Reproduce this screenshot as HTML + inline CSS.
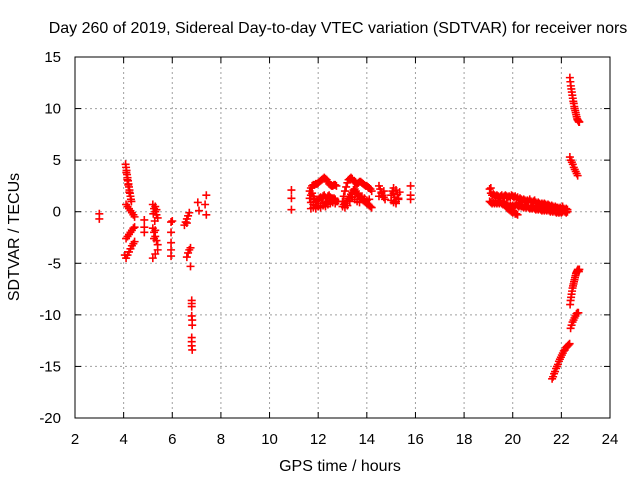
<!DOCTYPE html>
<html><head><meta charset="utf-8"><style>
body{margin:0;background:#fff}
svg{display:block;font-family:"Liberation Sans",sans-serif}
</style></head><body>
<svg id="chart" width="640" height="480" xmlns="http://www.w3.org/2000/svg">
<rect x="0" y="0" width="640" height="480" fill="#fff"/>
<text x="338" y="33" font-size="16" text-anchor="middle">Day 260 of 2019, Sidereal Day-to-day VTEC variation (SDTVAR) for receiver nors</text>
<text x="340" y="471" font-size="16" text-anchor="middle">GPS time / hours</text>
<text x="19" y="237" font-size="16" text-anchor="middle" transform="rotate(-90 19 237)">SDTVAR / TECUs</text>
<g id="grid"></g><g id="axes"></g><g id="marks"></g>
</svg>
<script>
const xTicks=[2,4,6,8,10,12,14,16,18,20,22,24];
const yTicks=[15,10,5,0,-5,-10,-15,-20];
const hours=[
3.0,3.0,
4.08,4.10,4.12,4.14,4.16,4.18,4.20,4.22,4.24,4.26,4.28,4.30,4.32,4.11,4.15,4.19,4.23,
4.10,4.16,4.22,4.28,4.34,4.40,4.45,
4.10,4.16,4.22,4.28,4.34,4.40,4.45,
4.05,4.10,4.16,4.22,4.28,4.34,4.40,4.45,
4.85,4.85,4.85,
5.2,5.25,5.3,5.35,5.4,5.3,5.28,5.35,5.22,
5.2,5.25,5.3,5.35,5.4,5.25,5.3,
5.2,5.3,5.4,
5.95,5.95,5.95,5.95,5.95,6.0,
6.5,6.55,6.6,6.65,6.7,6.6,
6.6,6.65,6.7,6.75,6.75,
6.8,6.8,6.8,6.8,6.82,6.82,6.8,6.8,6.8,6.82,
7.05,7.4,7.35,7.1,7.4,
10.9,10.9,10.9,
11.65,11.7,11.75,11.8,11.85,11.9,11.95,12.0,12.05,12.1,12.15,12.2,12.25,12.3,12.35,12.4,12.45,12.5,12.55,12.6,12.65,12.7,12.75,
11.65,11.7,11.75,11.8,11.85,11.9,11.95,12.0,12.05,12.1,12.15,12.2,12.25,12.3,12.35,12.4,12.45,12.5,12.55,12.6,12.65,12.7,12.75,
11.7,11.8,11.9,12.0,12.1,12.2,12.3,12.4,12.5,12.6,12.7,
11.7,11.8,11.9,12.0,12.1,12.2,12.3,12.4,12.5,12.6,12.7,12.8,
13.0,13.05,13.1,13.15,13.2,13.25,13.3,13.35,13.4,13.45,13.5,13.55,13.6,13.65,13.7,13.75,13.8,13.85,13.9,13.95,14.0,14.05,14.1,14.15,14.2,
13.0,13.05,13.1,13.15,13.2,13.25,13.3,13.35,13.4,13.45,13.5,13.55,13.6,13.65,13.7,13.75,13.8,13.85,13.9,13.95,14.0,14.05,14.1,14.15,14.2,
13.1,13.2,13.3,13.4,13.5,13.6,13.7,13.8,13.9,14.0,14.1,
14.5,14.55,14.6,14.65,14.7,14.75,14.5,14.6,14.7,
15.0,15.05,15.1,15.15,15.2,15.25,15.3,15.35,15.0,15.1,15.2,15.3,15.1,15.2,
15.8,15.8,15.8,
19.05,19.1,19.15,19.2,19.25,19.3,19.35,19.4,19.45,19.5,19.55,19.6,19.65,19.7,19.75,19.8,19.85,19.9,19.95,20.0,20.05,20.1,20.15,20.2,20.25,20.3,20.35,20.4,20.45,20.5,20.55,20.6,20.65,20.7,20.75,20.8,20.85,20.9,20.95,21.0,21.05,21.1,21.15,21.2,21.25,21.3,21.35,21.4,21.45,21.5,21.55,21.6,21.65,21.7,21.75,21.8,21.85,21.9,21.95,22.0,22.05,22.1,22.15,22.2,22.25,
19.05,19.1,19.15,19.2,19.25,19.3,19.35,19.4,19.45,19.5,19.55,19.6,19.65,19.7,19.75,19.8,19.85,19.9,19.95,20.0,20.05,20.1,20.15,20.2,20.25,20.3,20.35,20.4,20.45,20.5,20.55,20.6,20.65,20.7,20.75,20.8,20.85,20.9,20.95,21.0,21.05,21.1,21.15,21.2,21.25,21.3,21.35,21.4,21.45,21.5,21.55,21.6,21.65,21.7,21.75,21.8,21.85,21.9,21.95,22.0,22.05,22.1,22.15,22.2,22.25,
19.7,19.75,19.8,19.85,19.9,19.95,20.0,20.05,20.1,20.15,20.2,19.1,
22.35,22.37,22.39,22.41,22.43,22.45,22.47,22.49,22.51,22.53,22.55,22.57,22.59,22.61,22.63,22.65,22.67,22.7,22.72,22.74,
22.35,22.39,22.43,22.47,22.51,22.55,22.59,22.63,22.67,
22.36,22.38,22.4,22.42,22.44,22.46,22.48,22.5,22.52,22.54,22.56,22.58,22.6,22.62,22.64,22.66,22.68,22.7,22.72,22.74,
22.38,22.42,22.46,22.5,22.54,22.58,22.62,22.66,22.7,
21.62,21.66,21.7,21.74,21.78,21.82,21.86,21.9,21.94,21.98,22.02,22.06,22.1,22.14,22.18,22.22,22.26,22.3,22.34
];
const sdtvar=[
-0.2,-0.7,
4.6,4.3,4.0,3.6,3.3,3.0,2.7,2.4,2.1,1.8,1.5,1.2,1.0,3.8,3.1,2.6,1.9,
0.7,0.5,0.3,0.1,-0.1,-0.3,-0.5,
-2.6,-2.4,-2.2,-2.0,-1.8,-1.6,-1.5,
-4.2,-4.5,-4.2,-3.9,-3.6,-3.3,-3.1,-2.9,
-0.8,-1.5,-2.0,
0.7,0.3,0.0,-0.3,-0.6,0.5,-0.9,0.2,-0.2,
-1.6,-2.0,-2.4,-2.8,-3.2,-2.6,-1.8,
-4.5,-4.1,-3.7,
-1.0,-2.0,-3.0,-3.7,-4.3,-0.9,
-1.3,-1.0,-0.7,-0.4,-0.1,-1.1,
-4.4,-4.0,-3.7,-3.5,-5.3,
-8.6,-8.9,-9.2,-10.1,-10.5,-11.0,-12.2,-12.6,-13.0,-13.4,
0.9,1.6,0.7,0.1,-0.3,
2.1,1.3,0.2,
2.0,2.3,2.5,2.6,2.6,2.7,2.7,2.8,2.9,3.0,3.1,3.2,3.3,3.2,3.1,2.9,2.7,2.6,2.5,2.5,2.6,2.6,2.5,
1.3,1.6,1.8,1.5,1.2,1.0,1.1,1.2,1.3,1.4,1.3,1.5,1.6,1.4,1.3,1.5,1.6,1.4,1.3,1.2,1.3,1.1,1.0,
0.3,0.4,0.3,0.5,0.4,0.6,0.5,0.7,0.8,0.9,0.8,
0.9,0.7,0.6,0.5,0.6,0.8,0.9,1.0,1.1,1.0,1.2,1.0,
1.0,1.5,2.0,2.4,2.8,3.1,3.2,3.3,3.2,3.0,2.9,2.8,2.7,2.8,2.9,2.9,2.8,2.7,2.6,2.5,2.5,2.4,2.3,2.2,2.0,
0.5,0.7,0.8,1.0,1.1,1.3,1.5,1.7,1.9,2.1,2.2,2.0,1.8,1.6,1.5,1.4,1.2,1.1,1.0,0.9,0.8,0.7,0.6,0.5,0.4,
0.4,0.6,1.0,1.4,1.2,1.0,0.9,1.5,1.3,1.1,1.2,
2.5,2.2,1.9,1.6,1.4,1.2,1.5,1.8,2.0,
1.6,2.0,1.8,1.4,2.1,1.7,1.3,1.9,1.1,0.9,1.0,1.2,2.3,0.8,
2.5,1.6,1.2,
2.2,1.8,1.6,1.7,1.6,1.5,1.6,1.5,1.4,1.5,1.6,1.4,1.5,1.6,1.5,1.4,1.5,1.4,1.6,1.5,1.4,1.5,1.3,1.4,1.2,1.3,1.2,1.1,1.2,1.1,1.0,1.1,1.0,1.2,1.0,0.9,1.0,1.1,0.9,0.8,0.9,0.8,0.7,0.8,0.7,0.8,0.7,0.6,0.7,0.6,0.5,0.6,0.5,0.4,0.5,0.4,0.4,0.3,0.4,0.3,0.5,0.3,0.2,0.3,0.2,
1.0,0.9,0.8,0.9,0.8,0.9,0.8,0.9,0.8,0.9,0.8,0.7,0.8,0.7,0.8,0.6,0.5,0.6,0.5,0.6,0.5,0.6,0.7,0.6,0.5,0.6,0.5,0.5,0.4,0.5,0.4,0.5,0.4,0.3,0.4,0.3,0.4,0.3,0.2,0.3,0.2,0.3,0.2,0.1,0.2,0.1,0.2,0.1,0.2,0.1,0.0,0.1,0.0,0.1,0.0,-0.1,0.0,-0.1,0.0,-0.1,0.0,0.1,0.0,-0.1,0.0,
0.6,0.4,0.3,0.2,0.1,0.0,-0.1,0.0,-0.2,-0.2,-0.3,2.3,
13.0,12.6,12.2,11.9,11.6,11.3,11.0,10.7,10.5,10.2,10.0,9.8,9.6,9.4,9.2,9.0,8.9,8.8,8.7,8.7,
5.3,5.0,4.8,4.6,4.3,4.1,3.9,3.7,3.5,
-9.0,-8.6,-8.3,-8.0,-7.7,-7.4,-7.2,-7.0,-6.8,-6.6,-6.4,-6.2,-6.0,-5.9,-5.8,-5.7,-5.6,-5.7,-5.8,-5.6,
-11.3,-11.0,-10.7,-10.5,-10.3,-10.1,-9.9,-9.8,-9.8,
-16.2,-16.0,-15.7,-15.5,-15.2,-15.0,-14.8,-14.5,-14.3,-14.1,-13.9,-13.7,-13.5,-13.4,-13.2,-13.1,-13.0,-12.9,-12.8
];
const L=75,R=610,T=57,B=418;
function xs(h){return L+(h-2)*(R-L)/22;}
function ys(v){return T+(15-v)*(B-T)/35;}
const NS="http://www.w3.org/2000/svg";
function mk(tag,attrs,parent){const e=document.createElementNS(NS,tag);for(const k in attrs)e.setAttribute(k,attrs[k]);parent.appendChild(e);return e;}
const grid=document.getElementById('grid'),axes=document.getElementById('axes'),marks=document.getElementById('marks');
xTicks.forEach(t=>{const x=xs(t);
 if(t>2&&t<24){const g=mk('line',{x1:x,x2:x,y1:T,y2:B,stroke:'#a0a0a0','stroke-dasharray':'2,3'},grid);
 
 }
 mk('line',{x1:x,x2:x,y1:B,y2:B-6,stroke:'#000'},axes);
 mk('line',{x1:x,x2:x,y1:T,y2:T+6,stroke:'#000'},axes);
 const tx=mk('text',{x:x,y:B+26,'font-size':15,'text-anchor':'middle'},axes);tx.textContent=t;
 
 
});
yTicks.forEach(t=>{const y=ys(t);
 if(t<15&&t>-20){const g=mk('line',{x1:L,x2:R,y1:y,y2:y,stroke:'#a0a0a0','stroke-dasharray':'2,3'},grid);
 
 }
 mk('line',{x1:L,x2:L+6,y1:y,y2:y,stroke:'#000'},axes);
 mk('line',{x1:R,x2:R-6,y1:y,y2:y,stroke:'#000'},axes);
 const tx=mk('text',{x:L-14,y:y+5,'font-size':15,'text-anchor':'end'},axes);tx.textContent=t;
 
 
});
const frame=mk('rect',{x:L,y:T,width:R-L,height:B-T,fill:'none',stroke:'#000'},axes);


hours.forEach((h,i)=>{const x=xs(h),y=ys(sdtvar[i]);
 const p=mk('path',{d:`M${x-4},${y}H${x+4}M${x},${y-4}V${y+4}`,stroke:'#f00','stroke-width':1.6,fill:'none'},marks);
 
 
});
</script>
</body></html>
